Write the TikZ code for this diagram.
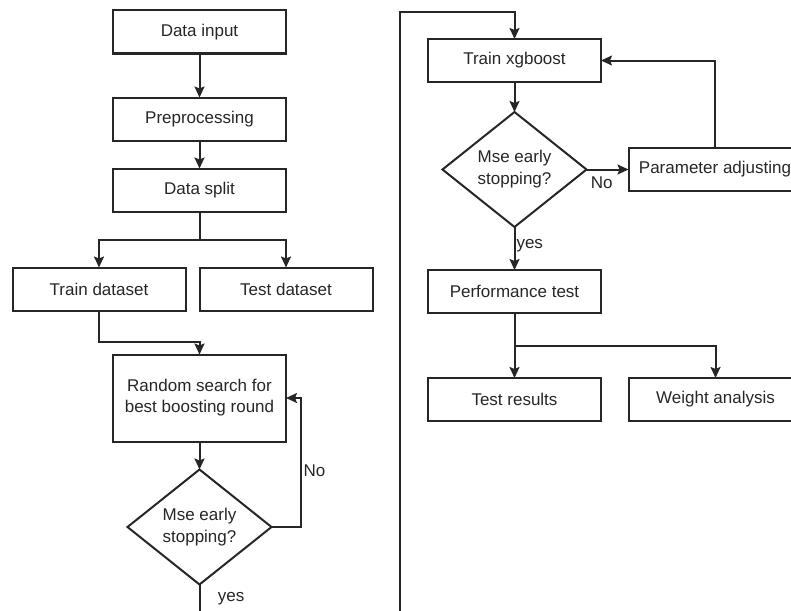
\documentclass[tikz,border=0pt]{standalone}
\usepackage{fontspec}
\setmainfont{Liberation Sans}
\usetikzlibrary{positioning,shapes.geometric,arrows.meta}

\begin{document}
\begin{tikzpicture}[x=1pt, y=1pt, line width=2pt, text=black!85,
		font=\fontsize{17}{21}\selectfont,
		arr/.style = {draw=black!85, -{Stealth[length=11pt,width=10pt,inset=2pt]}},
		main/.style = {draw=black!85, rectangle, minimum width=173pt, minimum height=43pt, inner sep=2pt, outer sep=0pt, align=center},
		dec/.style = {draw=black!85, diamond, aspect=1.25, minimum width=144pt, minimum height=115pt, inner sep=0pt, outer sep=0pt, align=center, font=\fontsize{17}{22}\selectfont}]
		\useasboundingbox (0,0) rectangle (791,-610);
		\clip (0,0) rectangle (791,-610);
		% left column
		\node[main] (1) at (199.5,-32) {Data input};
		\node[main] (2) [below=44pt of 1] {Preprocessing};
		\node[main] (3) [below=28pt of 2] {Data split};
		\node[main] (4) [below=56pt of 3, xshift=-100.5pt] {Train dataset};
		\node[main] (5) [right=14pt of 4] {Test dataset};
		\node[main, minimum height=87pt] (6) [below=44pt of 4, xshift=100.5pt] {Random search for\\best boosting round};
		\node[dec] (7) [below=28pt of 6] {Mse early\\stopping?};
		% right column
		\node[main] (8) at (514.5,-60.5) {Train xgboost};
		\node[dec] (9) [below=30pt of 8] {Mse early\\stopping?};
		\node[main] (10) [right=42pt of 9] {Parameter adjusting};
		\node[main] (11) [below=43pt of 9] {Performance test};
		\node[main] (12) [below=65pt of 11] {Test results};
		\node[main] (13) [right=28pt of 12] {Weight analysis};
		\coordinate (14) at (400,-640);
		\coordinate (15) at (400,-12);
		\draw[arr] (1) -- (2);
		\draw[arr] (2) -- (3);
		\draw[arr] (3.south) -- ++(0,-28.5) -| (4.north);
		\draw[arr] (3.south) -- ++(0,-28.5) -| (5.north);
		\draw[arr] (4.south) -- ++(0,-31) -| (6.north);
		\draw[arr] (6) -- (7);
		\draw[arr] (7.east) -- ++(29,0) |- node[pos=0.22, right, inner sep=2pt] {No} (6.east);
		\draw[arr] (7.south) |- node[pos=0.13, right, xshift=14pt] {yes} (14) -- (15) -| (8.north);
		\draw[arr] (8) -- (9);
		\draw[arr] (9) -- (10) node[pos=0.36, below, yshift=-3pt] {No};
		\draw[arr] (9) -- (11) node[pos=0.44, right, inner sep=1pt] {yes};
		\draw[arr] (10.north) |- (8.east);
		\draw[arr] (11) -- (12);
		\draw[arr] (11.south) -- ++(0,-33) -| (13.north);
	\end{tikzpicture}
\end{document}
